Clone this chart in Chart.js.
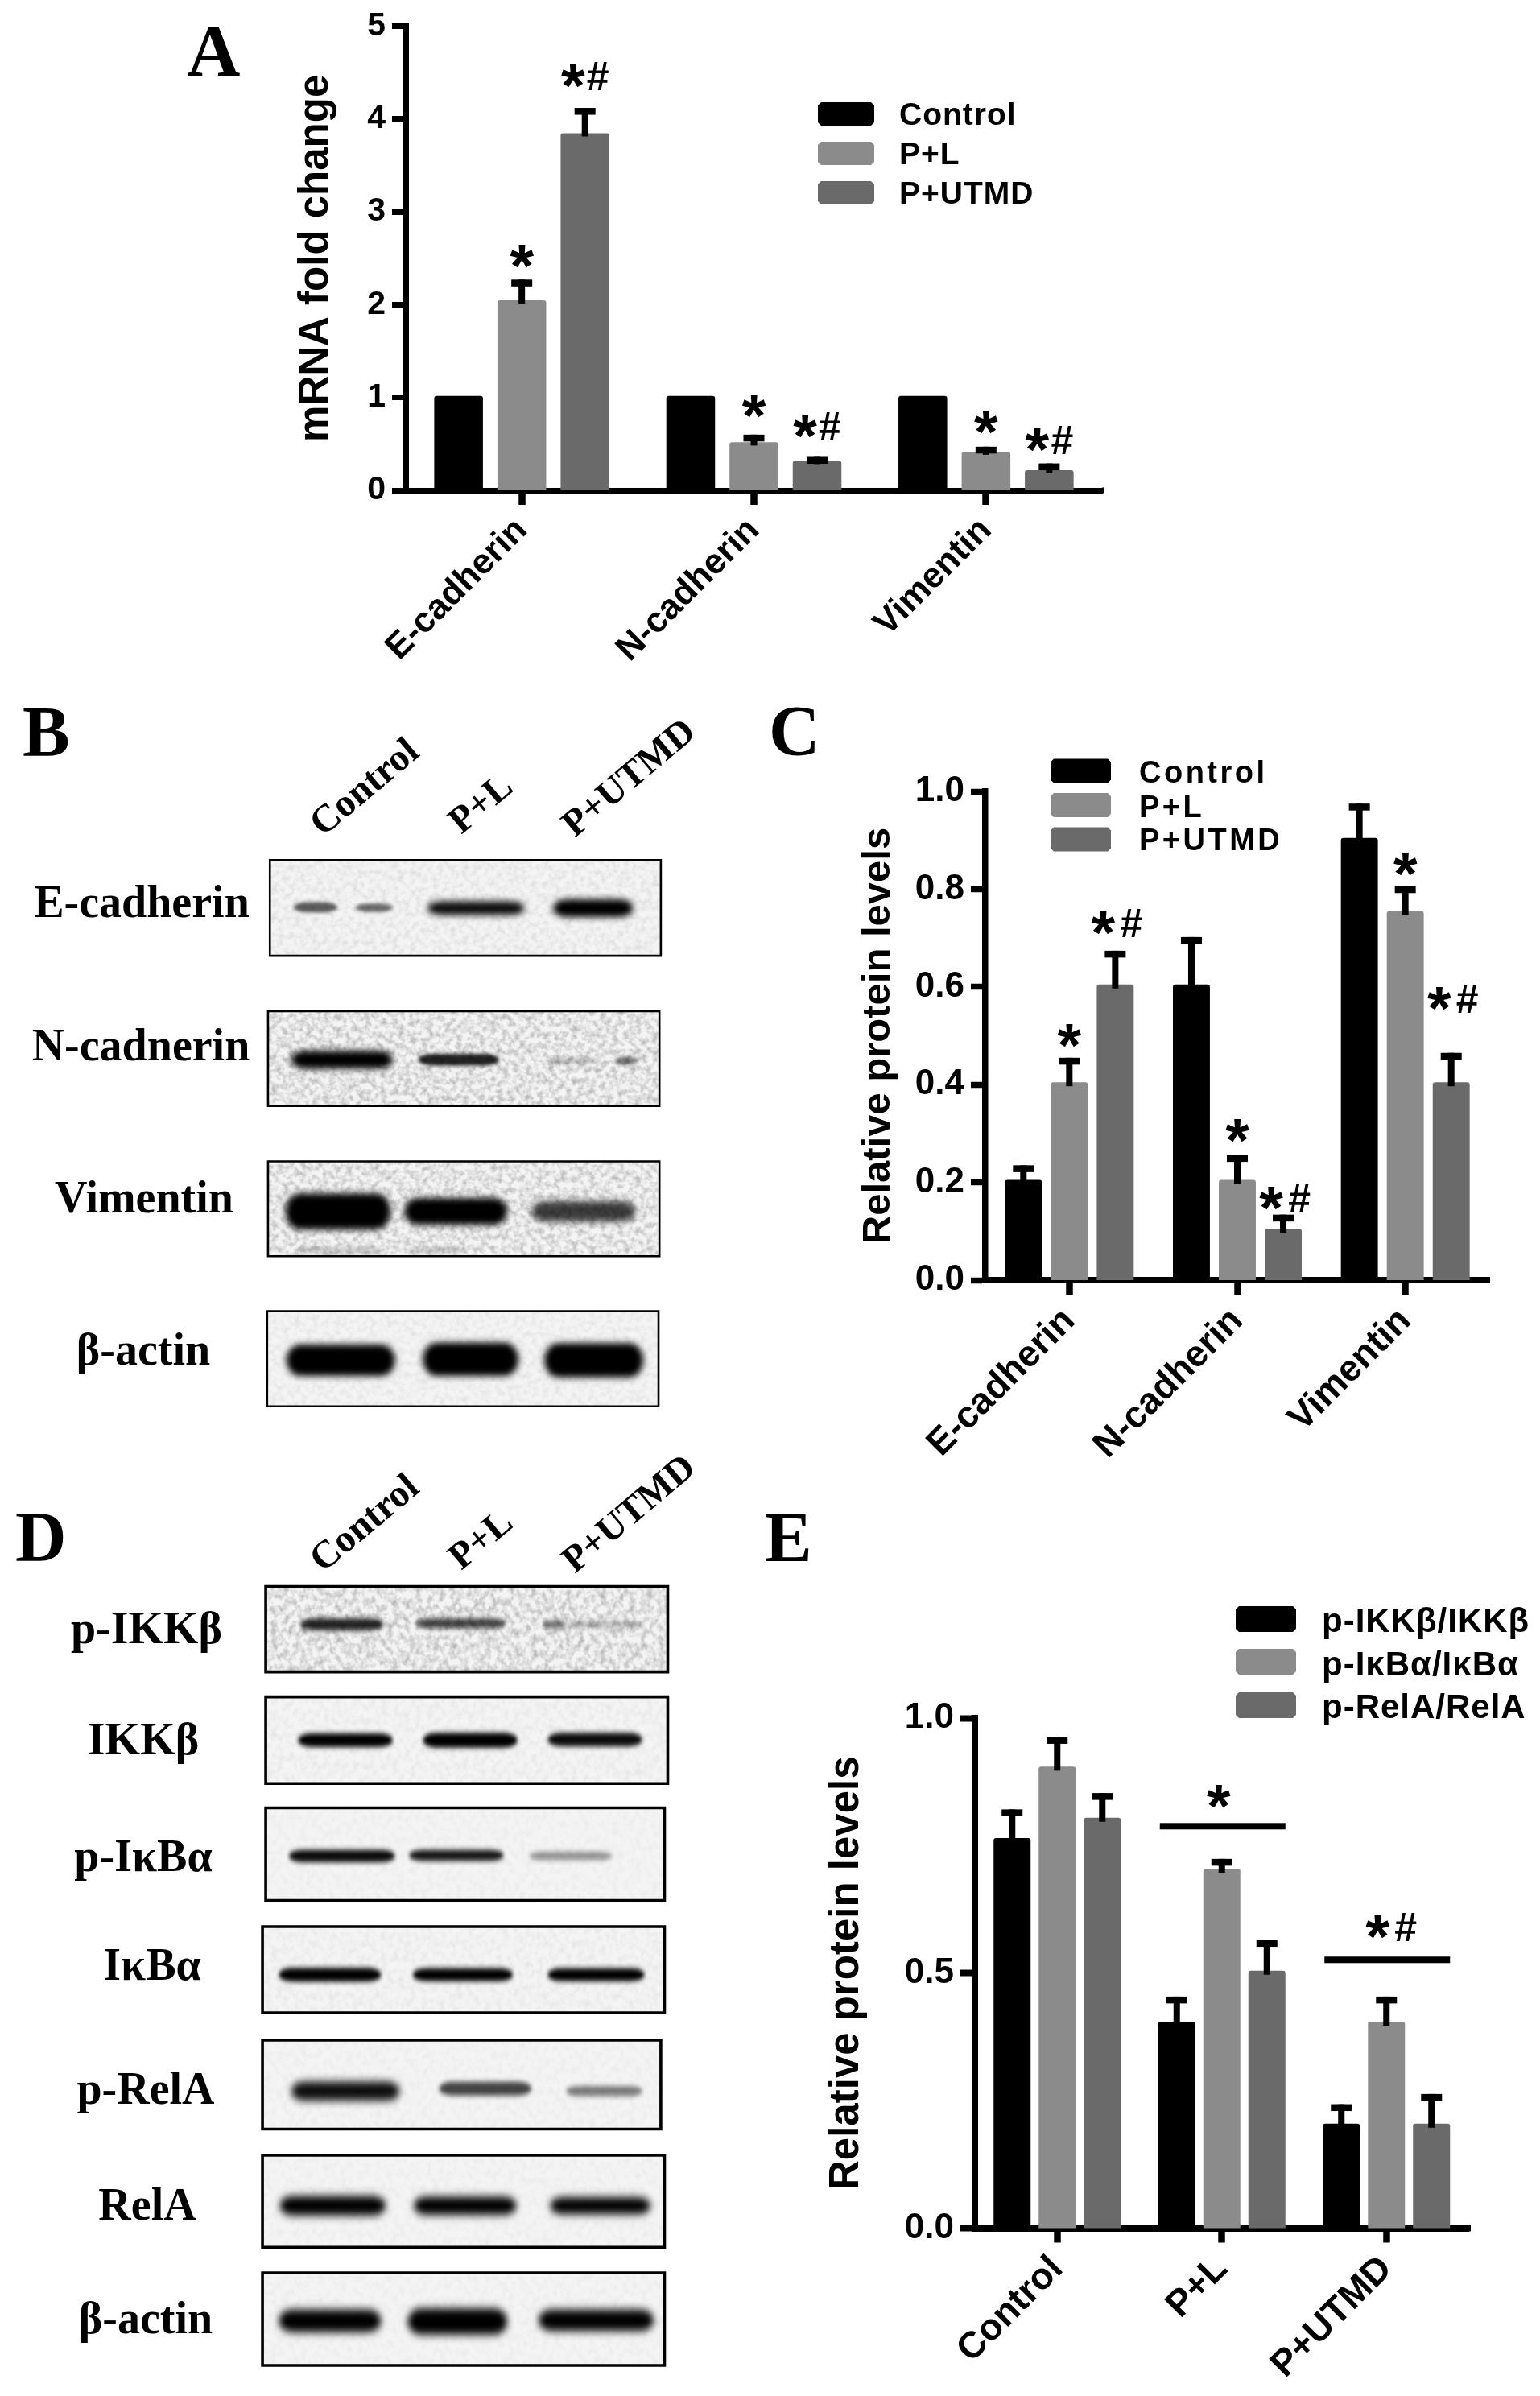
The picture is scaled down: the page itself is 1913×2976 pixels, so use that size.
<!DOCTYPE html>
<html><head><meta charset="utf-8">
<style>
html,body{margin:0;padding:0;background:#fff;width:1913px;height:2976px;overflow:hidden}
canvas{position:absolute;filter:blur(.45px)}
svg{position:absolute;left:0;top:0;filter:blur(.45px)}
</style>
<script src="https://cdn.jsdelivr.net/npm/chart.js@4"></script>
</head><body>
<svg id="blots" width="1913" height="2976" xmlns="http://www.w3.org/2000/svg"></svg>
<canvas id="chartA"></canvas><canvas id="chartC"></canvas><canvas id="chartE"></canvas>
<script>
// ---------- Chart values ----------
const groupNames = ['Control', 'P+L', 'P+UTMD'];
const markerNames = ['E-cadherin', 'N-cadherin', 'Vimentin'];
const pathwayNames = ['p-IKKβ/IKKβ', 'p-IκBα/IκBα', 'p-RelA/RelA'];

// Panel A: mRNA fold change
const mrnaControl = [1, 1, 1];
const mrnaPL = [2.03, 0.5, 0.4];
const mrnaUTMD = [3.83, 0.3, 0.2];
const mrnaControlTop = [null, null, null];
const mrnaPLTop = [2.27, 0.6, 0.47];
const mrnaUTMDTop = [4.12, 0.36, 0.29];
const mrnaStarPL = [2.52, 0.91, 0.73];
const mrnaStarUTMD = [4.46, 0.69, 0.54];

// Panel C: relative protein levels
const proteinControl = [0.2, 0.6, 0.9];
const proteinPL = [0.4, 0.2, 0.75];
const proteinUTMD = [0.6, 0.1, 0.4];
const proteinControlTop = [0.235, 0.702, 0.975];
const proteinPLTop = [0.455, 0.256, 0.806];
const proteinUTMDTop = [0.674, 0.134, 0.465];
const proteinStarPL = [0.5, 0.306, 0.851];
const proteinStarUTMD = [0.73, 0.168, 0.575];

// Panel E: pathway phosphorylation
const ikkValues = [0.76, 0.4, 0.2];
const ikbValues = [0.9, 0.7, 0.4];
const relaValues = [0.8, 0.5, 0.2];
const ikkTop = [0.821, 0.454, 0.243];
const ikbTop = [0.963, 0.724, 0.454];
const relaTop = [0.853, 0.565, 0.263];
const sigLineLevels = [null, 0.788, 0.526];
const sigLabelLevels = [null, 0.846, 0.59];
const sigLabels = [null, '*', '*#'];

const COLORS = ['#000000', '#8b8b8b', '#6a6a6a'];
const SANS = '"Liberation Sans", Arial, sans-serif';
const SERIF = '"Liberation Serif", "Times New Roman", serif';

// ---------- Blot panels (illustrative images, in crop units) ----------
const NS = 'http://www.w3.org/2000/svg';
const svg = document.getElementById('blots');
function el(name, attrs, parent, text) {
  const e = document.createElementNS(NS, name);
  for (const k in attrs) e.setAttribute(k, attrs[k]);
  if (text !== undefined) e.textContent = text;
  (parent || svg).appendChild(e);
  return e;
}
const defs = el('defs', {});
const bl = el('filter', {id:'soft', x:'-20%', y:'-150%', width:'140%', height:'400%'}, defs);
el('feGaussianBlur', {stdDeviation:'7'}, bl);
const bl2 = el('filter', {id:'softThin', x:'-20%', y:'-250%', width:'140%', height:'600%'}, defs);
el('feGaussianBlur', {stdDeviation:'4'}, bl2);
const nz = el('filter', {id:'noise', x:'0', y:'0', width:'100%', height:'100%'}, defs);
el('feTurbulence', {type:'fractalNoise', baseFrequency:'0.08', numOctaves:'3', seed:'7'}, nz);
el('feColorMatrix', {type:'matrix', values:'0 0 0 0 0  0 0 0 0 0  0 0 0 0 0  0.9 0 0 0 -0.34'}, nz);

const blotB = [
  {f:[584,328,1430,535], n:.2,  b:[[635,730,430,22,.62],[770,850,431,19,.55],[925,1135,432,30,.95],[1197,1370,432,38,1]]},
  {f:[580,655,1427,860], n:.6,  b:[[630,850,760,38,1],[905,1080,760,25,.85],[1180,1290,762,14,.2],[1330,1380,762,18,.5]]},
  {f:[580,980,1427,1185],n:.55, b:[[618,845,1088,78,1],[875,1098,1088,58,1],[1150,1375,1088,44,.75],[640,830,1172,16,.14],[880,1010,1172,14,.14]]},
  {f:[578,1304,1425,1510],n:.15,b:[[620,855,1410,68,1],[915,1122,1408,72,1],[1178,1392,1410,74,1]]}
];
const blotD = [
  {f:[575,204,1445,348], n:.6, b:[[650,830,268,20,.85],[900,1095,266,17,.7],[1175,1225,268,14,.55],[1225,1390,268,10,.25]]},
  {f:[575,390,1445,536], n:.12,b:[[645,850,463,23,1],[915,1120,463,25,1],[1185,1390,462,23,.95]]},
  {f:[575,577,1438,733], n:.08,b:[[625,855,658,21,.95],[885,1090,657,19,.9],[1145,1325,658,14,.4]]},
  {f:[568,777,1438,922], n:.12,b:[[603,825,858,23,1],[893,1110,858,22,1],[1185,1395,858,22,1]]},
  {f:[568,968,1430,1118],n:.08,b:[[630,865,1054,32,.95],[950,1150,1050,23,.72],[1225,1390,1054,17,.5]]},
  {f:[568,1162,1438,1317],n:.08,b:[[605,835,1247,33,1],[895,1118,1247,31,1],[1190,1408,1247,29,1]]},
  {f:[568,1360,1438,1516],n:.08,b:[[603,825,1441,38,1],[882,1098,1442,44,1],[1165,1415,1440,36,1]]}
];
function drawBlots(list, ox, oy, sx, sy, stroke) {
  const g = el('g', {transform:`translate(${ox} ${oy}) scale(${1/sx} ${1/sy})`});
  list.forEach(p => {
    const [x1,y1,x2,y2] = p.f;
    el('rect', {x:x1,y:y1,width:x2-x1,height:y2-y1,fill:'#f4f4f4'}, g);
    el('rect', {x:x1,y:y1,width:x2-x1,height:y2-y1,filter:'url(#noise)',opacity:p.n}, g);
    p.b.forEach(([a,b,yc,h,o]) => {
      el('rect', {x:a,y:yc-h/2,width:b-a,height:h,rx:30,ry:h/2,fill:'#000',opacity:o,
        filter:h<26?'url(#softThin)':'url(#soft)'}, g);
    });
    el('rect', {x:x1,y:y1,width:x2-x1,height:y2-y1,fill:'none',stroke:'#000','stroke-width':stroke,'vector-effect':'non-scaling-stroke'}, g);
  });
}
drawBlots(blotB, 0, 880, 1.742, 1.742, 2.6);
drawBlots(blotD, 0, 1820, 1.742, 1.356, 3.6);

function label(t, x, y, size, anchor, rot) {
  const a = {x, y, 'font-family':SERIF, 'font-weight':'bold', 'font-size':size, fill:'#000', 'text-anchor':anchor||'middle'};
  if (rot) a.transform = `rotate(${rot} ${x} ${y})`;
  el('text', a, svg, t);
}
[['A',232,94,92,'start'],['B',28,938,88,'start'],['C',955,937,88,'start'],['D',19,1938,88,'start'],['E',950,1939,88,'start']]
  .forEach(l => label(l[0],l[1],l[2],l[3],l[4]));
[['E-cadherin',176,1139],['N-cadnerin',175,1317],['Vimentin',179,1506],['β-actin',178,1695]]
  .forEach(l => label(l[0],l[1],l[2],56));
[['p-IKKβ',182,2041],['IKKβ',178,2179],['p-IκBα',178,2324],['IκBα',189,2459],['p-RelA',181,2613],['RelA',183,2757],['β-actin',181,2898]]
  .forEach(l => label(l[0],l[1],l[2],56));
[0,914].forEach(dy => {
  label(groupNames[0],401,1040+dy,48,'start',-40);
  label(groupNames[1],573,1037+dy,47,'start',-40);
  label(groupNames[2],714,1041+dy,47,'start',-40);
});

// ---------- Chart plugin: error bars, marks and legend through the chart's scales ----------
function chamfer(ctx,x,y,w,h,c){
  ctx.beginPath();ctx.moveTo(x+c,y);ctx.lineTo(x+w-c,y);ctx.lineTo(x+w,y+c);ctx.lineTo(x+w,y+h-c);
  ctx.lineTo(x+w-c,y+h);ctx.lineTo(x+c,y+h);ctx.lineTo(x,y+h-c);ctx.lineTo(x,y+c);ctx.closePath();ctx.fill();
}
function glyph(ctx,t,x,cy,font){
  ctx.font=font;ctx.textAlign='center';ctx.textBaseline='alphabetic';
  const m=ctx.measureText(t);
  ctx.fillText(t,x,cy+(m.actualBoundingBoxAscent-m.actualBoundingBoxDescent)/2);
}
function drawMark(ctx,t,x,cy,offStar,offHash){
  glyph(ctx,'*',x+(t.length>1?offStar:0),cy,'bold 76px '+SANS);
  if(t.length>1) glyph(ctx,'#',x+offHash,cy,'bold 50px '+SANS);
}
const overlay = {
  id:'overlay',
  afterDatasetsDraw(chart,args,o){
    const ctx=chart.ctx, y=chart.scales.y, x=chart.scales.x;
    ctx.save();ctx.fillStyle='#000';
    ctx.fillRect(chart.chartArea.right,y.getPixelForValue(0)-o.axis/2,o.axisEnd-o.ox-chart.chartArea.right,o.axis);
    o.tops.forEach((arr,i)=>{
      chart.getDatasetMeta(i).data.forEach((bar,j)=>{
        if(arr[j]===null) return;
        const py=y.getPixelForValue(arr[j]);
        ctx.fillRect(bar.x-4,py,8,bar.y-py+2);
        ctx.fillRect(bar.x-13,py,26,8.5);
      });
    });
    (o.stars||[]).forEach((arr,i)=>{
      if(!arr) return;
      chart.getDatasetMeta(i).data.forEach((bar,j)=>{
        drawMark(ctx,i===1?'*':'*#',bar.x,y.getPixelForValue(arr[j]),-15,o.hashOff);
      });
    });
    if(o.sigLines){
      o.sigLines.forEach((lv,j)=>{
        if(lv===null) return;
        const cx=x.getPixelForValue(j), py=y.getPixelForValue(lv);
        ctx.fillRect(cx+1-78,py-4,156,8);
        drawMark(ctx,o.sigText[j],j===1?cx-4:cx,y.getPixelForValue(o.sigLabel[j]),-11,24);
      });
    }
    const L=o.legend, names=chart.data.datasets.map(d=>d.label);
    ctx.textAlign='left';ctx.textBaseline='alphabetic';
    names.forEach((n,i)=>{
      ctx.fillStyle=COLORS[i];
      chamfer(ctx,L.x-o.ox,L.y[i]-o.oy,L.w,L.h,4);
      ctx.fillStyle='#000';
      ctx.font='bold '+L.size+'px '+SANS;
      ctx.letterSpacing=L.spacing+'px';
      ctx.fillText(n,L.tx-o.ox,L.base[i]-o.oy);
      ctx.letterSpacing='0px';
    });
    ctx.restore();
  }
};
function build(id,box,plot,cats,names,series,opt){
  const cv=document.getElementById(id);
  cv.width=box.w;cv.height=box.h;cv.style.width=box.w+'px';cv.style.height=box.h+'px';
  cv.style.left=box.x+'px';cv.style.top=box.y+'px';
  new Chart(cv,{
    type:'bar',
    data:{labels:cats,datasets:series.map((d,i)=>({label:names[i],data:d,backgroundColor:COLORS[i],
      borderRadius:{topLeft:3,topRight:3,bottomLeft:0,bottomRight:0},borderSkipped:false,inflateAmount:opt.inflate,
      categoryPercentage:opt.cat,barPercentage:opt.bar}))},
    options:{
      responsive:false,maintainAspectRatio:false,animation:false,devicePixelRatio:1,
      layout:{autoPadding:false,padding:{left:0,top:plot.t-box.y,right:box.x+box.w-plot.r,bottom:0}},
      plugins:{legend:{display:false},tooltip:{enabled:false},
        overlay:{tops:opt.tops,stars:opt.stars,sigLines:opt.sigLines,sigLabel:opt.sigLabel,sigText:opt.sigText,
          legend:opt.legend,ox:box.x,oy:box.y,axis:opt.axis,axisEnd:plot.end,hashOff:opt.hashOff}},
      scales:{
        x:{afterFit(s){s.height=box.y+box.h-plot.b;},
          border:{display:true,color:'#000',width:opt.axis},
          grid:{display:true,drawOnChartArea:false,drawTicks:true,color:'#000',tickColor:'#000',tickWidth:8.5,tickLength:18,offset:false},
          ticks:{color:'#000',font:{family:SANS,weight:'bold',size:opt.xSize},minRotation:45,maxRotation:45,padding:opt.xPad,autoSkip:false}},
        y:{afterFit(s){s.width=plot.l-box.x;},min:opt.min,max:opt.max,
          border:{display:true,color:'#000',width:opt.axis},
          grid:{display:true,drawOnChartArea:false,drawTicks:true,color:'#000',tickColor:'#000',tickWidth:opt.axis,tickLength:opt.yTick},
          title:{display:true,text:opt.title,color:'#000',padding:0,font:{family:SANS,weight:'bold',size:opt.titleSize,lineHeight:1.2}},
          ticks:{color:'#000',stepSize:opt.step,padding:opt.yPad,font:{family:SANS,weight:'bold',size:opt.ySize},
            callback:v=>opt.dec?Number(v).toFixed(opt.dec):String(v)}}
      }
    },
    plugins:[overlay]
  });
}
const boxA={x:362,y:0,w:1040,h:860}, boxC={x:1062,y:900,w:851,h:960}, boxE={x:1021,y:1960,w:892,h:1016};
build('chartA',boxA,{l:504,r:1369,t:31.5,b:609,end:1371},markerNames,groupNames,[mrnaControl,mrnaPL,mrnaUTMD],{
  cat:.817,bar:.72,inflate:2,axis:7,xSize:44,ySize:41,xPad:6,yPad:8,yTick:17,min:0,max:5,step:1,dec:0,titleSize:51,hashOff:16,
  title:'mRNA fold change',tops:[mrnaControlTop,mrnaPLTop,mrnaUTMDTop],stars:[null,mrnaStarPL,mrnaStarUTMD],
  legend:{x:1016,y:[127,176,225],w:70,h:29,tx:1117,base:[155,204,253],size:39,spacing:1}
});
build('chartC',boxC,{l:1224,r:1850,t:983,b:1590,end:1851},markerNames,groupNames,[proteinControl,proteinPL,proteinUTMD],{
  cat:.82,bar:.70,inflate:3,axis:7.5,xSize:46,ySize:44,xPad:6,yPad:8,yTick:18,min:0,max:1,step:.2,dec:1,titleSize:49,hashOff:20,
  title:'Relative protein levels',tops:[proteinControlTop,proteinPLTop,proteinUTMDTop],stars:[null,proteinStarPL,proteinStarUTMD],
  legend:{x:1305,y:[942.5,985,1027.5],w:75,h:30,tx:1415,base:[972,1015,1056],size:38,spacing:3.5}
});
build('chartE',boxE,{l:1211,r:1824.5,t:2134,b:2767.5,end:1827},groupNames,pathwayNames,[ikkValues,ikbValues,relaValues],{
  cat:.8215,bar:.714,inflate:3,axis:8,xSize:46,ySize:44,xPad:6,yPad:8,yTick:18,min:0,max:1,step:.5,dec:1,titleSize:51,
  title:'Relative protein levels',tops:[ikkTop,ikbTop,relaTop],stars:null,
  sigLines:sigLineLevels,sigLabel:sigLabelLevels,sigText:sigLabels,
  legend:{x:1535,y:[1995,2048,2102],w:75,h:32,tx:1642,base:[2027,2081,2134],size:42,spacing:1}
});
</script>
</body></html>
